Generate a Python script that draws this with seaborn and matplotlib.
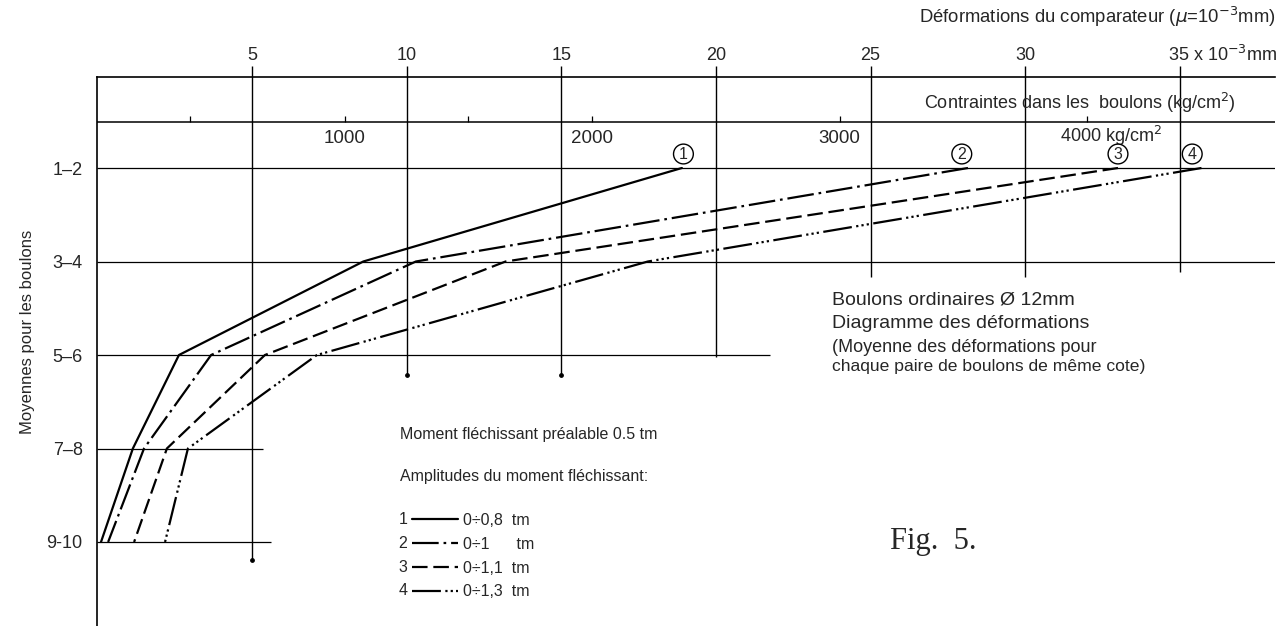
import matplotlib
matplotlib.use("Agg")
import matplotlib.pyplot as plt
import pandas as pd
import seaborn as sns
from matplotlib.lines import Line2D

# data (deformations in 10^-3 mm)
rows = ["1–2", "3–4", "5–6", "7–8", "9-10"]
row_pos = [1, 2, 3, 4, 5]
series_1 = [18.9, 8.6, 2.64, 1.15, 0.12]
series_2 = [28.15, 10.3, 3.68, 1.51, 0.35]
series_3 = [33.0, 13.2, 5.42, 2.25, 1.19]
series_4 = [35.7, 17.8, 7.1, 2.93, 2.19]
series_names = ["1", "2", "3", "4"]
amplitudes = ["0÷0,8  tm", "0÷1      tm", "0÷1,1  tm", "0÷1,3  tm"]
deform_ticks = [5, 10, 15, 20, 25, 30, 35]
stress_ticks = [375, 1000, 1500, 2000, 3000, 4000]
stress_labelled = [1000, 2000, 3000]
KG_TO_DEF = 0.008  # 1000 kg/cm2 ~ 8e-3 mm

# layout (pixels of the 1278x626 picture)
W, H = 1278, 626
X0, PX_UNIT = 97.3, 30.93
Y1, PX_ROW = 168, 93.5
X_RIGHT = 1275


def ux(px):
    return (px - X0) / PX_UNIT


def ur(py):
    return 1 + (py - Y1) / PX_ROW


vline_end = {5: 560, 10: 375, 15: 375, 20: 357, 25: 277, 30: 277, 35: 272}
vline_dot = [5, 10, 15]
row_end = [X_RIGHT, X_RIGHT, 770, 263, 271]

dash_styles = {
    "1": "",
    "2": (12, 2.2, 1.2, 2.2),
    "3": (7, 2.6),
    "4": (13, 2, 1, 1.4, 1, 1.4, 1, 2),
}

sns.set_style("white")
plt.rcParams["font.family"] = ["Liberation Sans", "DejaVu Sans"]
plt.rcParams["mathtext.fontset"] = "dejavusans"

df = pd.DataFrame({
    "deformation": series_1 + series_2 + series_3 + series_4,
    "row": row_pos * 4,
    "series": [s for s in series_names for _ in row_pos],
})

fig = plt.figure(figsize=(W / 100, H / 100), dpi=100)
ax = fig.add_axes([X0 / W, 0, (X_RIGHT - X0) / W, (H - 77) / H])
ax.set_xlim(0, ux(X_RIGHT))
ax.set_ylim(ur(H), ur(77))

sns.lineplot(data=df, x="deformation", y="row", style="series", dashes=dash_styles,
             color="black", linewidth=1.6, sort=False, estimator=None, legend=False, ax=ax)

# spines
for side in ["right", "bottom"]:
    ax.spines[side].set_visible(False)
for side in ["top", "left"]:
    ax.spines[side].set_linewidth(1.2)
    ax.spines[side].set_color("black")

# deformation scale on top
ax.xaxis.tick_top()
ax.set_xticks(deform_ticks[:-1], [str(t) for t in deform_ticks[:-1]])
ax.tick_params(axis="x", length=0, pad=9, labelsize=13)
ax.set_xlabel("")
ax.set_ylabel("")
ax.text(ux(1168), ur(61), "35 x 10$^{-3}$mm", ha="left", va="baseline", fontsize=13,
        clip_on=False)
for t in deform_ticks:
    ax.vlines(t, ur(66), ur(vline_end[t]), color="black", lw=1.0, clip_on=False)
ax.scatter(vline_dot, [ur(vline_end[t]) for t in vline_dot], s=6, color="black", zorder=3)

# rows
ax.set_yticks(row_pos, rows)
ax.tick_params(axis="y", length=9.5, width=0.9, pad=1, labelsize=13)
for r, end in zip(row_pos, row_end):
    ax.hlines(r, 0, ux(end), color="black", lw=0.9)

# stress scale
y_stress = ur(122)
ax.hlines(y_stress, 0, ux(X_RIGHT), color="black", lw=1.1)
stress_x = [s * KG_TO_DEF for s in stress_ticks]
ax.vlines(stress_x, y_stress - 6 / PX_ROW, y_stress, color="black", lw=0.9)
for s in stress_labelled:
    ax.text(s * KG_TO_DEF, ur(138), str(s), ha="center", va="center", fontsize=13.5)
ax.text(ux(1060), ur(136), "4000 kg/cm$^2$", ha="left", va="center", fontsize=13)
ax.text(ux(924), ur(103), "Contraintes dans les  boulons (kg/cm$^2$)", ha="left",
        va="center", fontsize=13)

# circled numbers at the line ends
ends = [series_1[0], series_2[0], series_3[0], series_4[0]]
shifts = [0.05, -0.2, 0.0, -0.3]
for name, e, d in zip(series_names, ends, shifts):
    ax.text(e + d, ur(154), name, ha="center", va="center", fontsize=11.5,
            bbox=dict(boxstyle="circle,pad=0.15", fc="white", ec="black", lw=1.0))

# texts
fig.text(1276 / W, 1 - 17 / H, "Déformations du comparateur ($\\mu$=10$^{-3}$mm)",
         ha="right", va="center", fontsize=13.3)
fig.text(28 / W, 1 - 332 / H, "Moyennes pour les boulons", rotation=90,
         ha="center", va="center", fontsize=12)
fig.text(832 / W, 1 - 300 / H, "Boulons ordinaires Ø 12mm", ha="left", va="center", fontsize=14)
fig.text(832 / W, 1 - 323 / H, "Diagramme des déformations", ha="left", va="center", fontsize=14)
fig.text(832 / W, 1 - 347 / H, "(Moyenne des déformations pour", ha="left", va="center",
         fontsize=13)
fig.text(832 / W, 1 - 366 / H, "chaque paire de boulons de même cote)", ha="left", va="center",
         fontsize=12.6)
fig.text(400 / W, 1 - 435 / H, "Moment fléchissant préalable 0.5 tm", ha="left", va="center",
         fontsize=11.5)
fig.text(400 / W, 1 - 476 / H, "Amplitudes du moment fléchissant:", ha="left", va="center",
         fontsize=11.5)
fig.text(890 / W, 1 - 542 / H, "Fig.  5.", ha="left", va="center", fontsize=22,
         family=["Liberation Serif", "DejaVu Serif"])

# legend
handles = [Line2D([], [], color="black", lw=1.6,
                  linestyle=(0, dash_styles[n]) if dash_styles[n] else "-")
           for n in series_names]
leg = fig.legend(handles, amplitudes, loc="upper left", bbox_to_anchor=(412 / W, 1 - 513 / H),
                 frameon=False, fontsize=11.5, handlelength=2.9, handletextpad=0.3,
                 labelspacing=0.55, borderpad=0, borderaxespad=0)
for i, n in enumerate(series_names):
    fig.text(403 / W, 1 - (520 + 23.5 * i) / H, n, ha="center", va="center", fontsize=11.5)

fig.savefig("out.png", dpi=100)
plt.close(fig)
